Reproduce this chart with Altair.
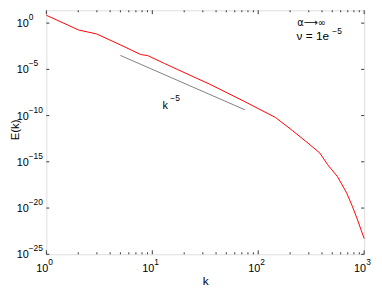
import altair as alt
import pandas as pd

# spectrum
k_vals = [1, 2.02, 2.98, 4.97, 7.78, 9.04, 13.0, 17.2, 34.8, 71.9, 145.6, 209.4,
          295.1, 381.1, 452.9, 559.8, 679.2, 772.7, 859.0, 1000]
E_vals = [7.1, 0.18, 0.068, 4.6e-3, 4.0e-4, 3.1e-4, 4.4e-5, 1.0e-5, 2.5e-7, 4.0e-9,
          6.2e-11, 2.5e-12, 1.05e-13, 9.1e-15, 4.8e-16, 2.5e-17, 5.0e-19, 1.6e-20,
          6.8e-22, 5.0e-24]

# k^-5 reference line
ref_k = [5, 75]
ref_E = [3.2e-4, 4.2e-10]

# tick values / labels (base "10" plus exponent)
x_major = [1, 10, 100, 1000]
x_exp = ["0", "1", "2", "3"]
x_minor = [2, 3, 4, 5, 6, 7, 8, 9, 20, 30, 40, 50, 60, 70, 80, 90,
           200, 300, 400, 500, 600, 700, 800, 900]
y_major = [1, 1e-5, 1e-10, 1e-15, 1e-20, 1e-25]
y_exp = ["0", "−5", "−10", "−15", "−20", "−25"]

# annotations: base text and superscripts
alpha_text = ["α⟶∞"]
alpha_k = [233]
alpha_E = [0.486]
ann_text = ["ν = 1e", "k"]
ann_k = [230, 12.5]
ann_E = [0.0158, 5.1e-10]
ann_size = [12, 11]
sup_text = ["−5", "−5"]
sup_k = [500, 14.8]
sup_E = [0.0686, 3.7e-9]

W, H = 323, 248
FONT = "Liberation Sans"
BLACK = "black"

xs = alt.Scale(type="log", domain=[1, 1000], nice=False)
ys = alt.Scale(type="log", domain=[1e-25, 10 ** 1.39], nice=False)

spec_df = pd.DataFrame({"k": k_vals, "E": E_vals})
ref_df = pd.DataFrame({"k": ref_k, "E": ref_E})

curve = alt.Chart(spec_df).mark_line(color="#ff0000", strokeWidth=1).encode(
    x=alt.X("k:Q", scale=xs, axis=alt.Axis(
        values=x_major, labels=False, ticks=False, domain=False, grid=False,
        title="k", titleFont=FONT, titleFontSize=12, titleFontWeight="normal",
        titleColor=BLACK, titleY=22, titleBaseline="top")),
    y=alt.Y("E:Q", scale=ys, axis=alt.Axis(
        values=y_major, labels=False, ticks=False, domain=False, grid=False,
        title="E(k)", titleFont=FONT, titleFontSize=11.5, titleBaseline="alphabetic",
        titleFontWeight="normal", titleColor=BLACK, titleX=-28.5, titleY=121)),
)

ref = alt.Chart(ref_df).mark_line(color="#808080", strokeWidth=1).encode(
    x=alt.X("k:Q", scale=xs), y=alt.Y("E:Q", scale=ys))

xt_major = pd.DataFrame({"k": x_major, "e": x_exp})
xt_minor = pd.DataFrame({"k": x_minor})
yt = pd.DataFrame({"E": y_major, "e": y_exp})

tick_col = "#333333"
ticks = [
    alt.Chart(xt_major).mark_rule(color=tick_col).encode(x=alt.X("k:Q", scale=xs), y=alt.value(H), y2=alt.value(H - 4)),
    alt.Chart(xt_major).mark_rule(color=tick_col).encode(x=alt.X("k:Q", scale=xs), y=alt.value(0), y2=alt.value(4)),
    alt.Chart(xt_minor).mark_rule(color=tick_col).encode(x=alt.X("k:Q", scale=xs), y=alt.value(H), y2=alt.value(H - 2)),
    alt.Chart(xt_minor).mark_rule(color=tick_col).encode(x=alt.X("k:Q", scale=xs), y=alt.value(0), y2=alt.value(2)),
    alt.Chart(yt).mark_rule(color=tick_col).encode(y=alt.Y("E:Q", scale=ys), x=alt.value(0), x2=alt.value(3)),
    alt.Chart(yt).mark_rule(color=tick_col).encode(y=alt.Y("E:Q", scale=ys), x=alt.value(W), x2=alt.value(W - 3)),
]

# tick labels as "10" + small raised exponent
labels = [
    alt.Chart(xt_major).mark_text(align="right", baseline="alphabetic", font=FONT, fontSize=11,
                                  color=BLACK, dx=2).encode(
        x=alt.X("k:Q", scale=xs), y=alt.value(H + 18), text=alt.value("10")),
    alt.Chart(xt_major).mark_text(align="left", baseline="alphabetic", font=FONT, fontSize=8.5,
                                  color=BLACK, dx=2).encode(
        x=alt.X("k:Q", scale=xs), y=alt.value(H + 11), text="e:N"),
    alt.Chart(yt).mark_text(align="left", baseline="alphabetic", font=FONT, fontSize=11,
                            color=BLACK, dy=4).encode(
        y=alt.Y("E:Q", scale=ys), x=alt.value(-30), text=alt.value("10")),
    alt.Chart(yt).mark_text(align="left", baseline="alphabetic", font=FONT, fontSize=8.5,
                            color=BLACK, dy=-3).encode(
        y=alt.Y("E:Q", scale=ys), x=alt.value(-18), text="e:N"),
]

alpha_df = pd.DataFrame({"t": alpha_text, "k": alpha_k, "E": alpha_E})
alpha = alt.Chart(alpha_df).mark_text(align="left", baseline="alphabetic", font="DejaVu Sans",
                                      fontSize=10, color=BLACK).encode(
    x=alt.X("k:Q", scale=xs), y=alt.Y("E:Q", scale=ys), text="t:N")

ann_df = pd.DataFrame({"t": ann_text, "k": ann_k, "E": ann_E, "s": ann_size})
ann = alt.Chart(ann_df).mark_text(align="left", baseline="alphabetic", font=FONT,
                                  color=BLACK).encode(
    x=alt.X("k:Q", scale=xs), y=alt.Y("E:Q", scale=ys), text="t:N",
    size=alt.Size("s:Q", scale=None, legend=None))
sup_df = pd.DataFrame({"t": sup_text, "k": sup_k, "E": sup_E})
sup = alt.Chart(sup_df).mark_text(align="left", baseline="alphabetic", font=FONT,
                                  fontSize=8.5, color=BLACK).encode(
    x=alt.X("k:Q", scale=xs), y=alt.Y("E:Q", scale=ys), text="t:N")

chart = alt.layer(curve, ref, *ticks, *labels, alpha, ann, sup).properties(
    width=W, height=H,
    autosize=alt.AutoSizeParams(type="none"),
    padding={"left": 39, "top": 0, "right": 10, "bottom": 35},
).configure_view(stroke="#222222", strokeWidth=1).configure(background="white")

chart.save("out.html", embed_options={"renderer": "svg", "actions": False})
